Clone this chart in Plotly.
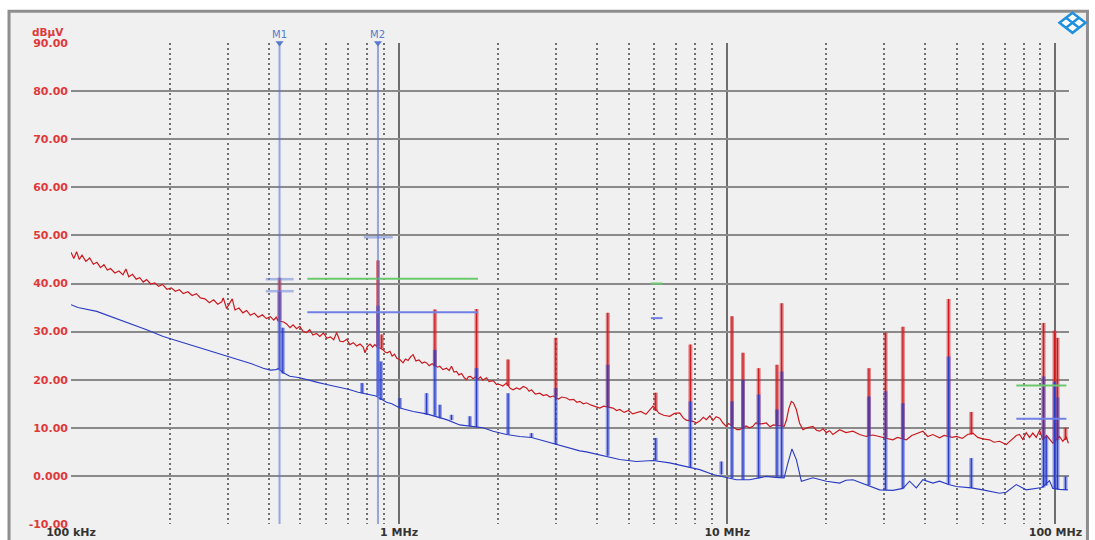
import math
import plotly.graph_objects as go

# ---------------- data (frequency in MHz, level in dBµV) ----------------
red_freq_mhz = [
    0.100, 0.102, 0.104, 0.106, 0.108, 0.111, 0.114, 0.117, 0.120, 0.123, 0.126, 0.129, 0.132, 0.136,
    0.140, 0.144, 0.147, 0.150, 0.154, 0.158, 0.162, 0.166, 0.170, 0.175, 0.180, 0.185, 0.190, 0.196,
    0.202, 0.208, 0.214, 0.220, 0.227, 0.234, 0.241, 0.248, 0.256, 0.264, 0.272, 0.280, 0.288, 0.291,
    0.298, 0.305, 0.310, 0.316, 0.325, 0.334, 0.343, 0.352, 0.362, 0.372, 0.383, 0.394, 0.405, 0.415,
    0.422, 0.428, 0.445, 0.454, 0.465, 0.475, 0.487, 0.498, 0.510, 0.522, 0.534, 0.546, 0.560, 0.573,
    0.588, 0.602, 0.617, 0.632, 0.645, 0.660, 0.676, 0.692, 0.708, 0.725, 0.742, 0.760, 0.777, 0.787,
    0.800, 0.815, 0.830, 0.843, 0.855, 0.880, 0.894, 0.908, 0.920, 0.937, 0.952, 0.968, 0.985, 1.005,
    1.020, 1.028, 1.045, 1.065, 1.085, 1.103, 1.125, 1.150, 1.175, 1.195, 1.212, 1.235, 1.260, 1.310,
    1.330, 1.360, 1.394, 1.420, 1.444, 1.470, 1.496, 1.520, 1.550, 1.580, 1.604, 1.625, 1.650, 1.680,
    1.705, 1.740, 1.770, 1.800, 1.846, 1.880, 1.934, 1.980, 2.027, 2.070, 2.124, 2.180, 2.225, 2.278,
    2.332, 2.390, 2.444, 2.490, 2.531, 2.600, 2.683, 2.750, 2.812, 2.880, 2.945, 3.060, 3.130, 3.235,
    3.311, 3.400, 3.480, 3.552, 3.640, 3.722, 3.850, 3.994, 4.087, 4.200, 4.486, 4.600, 4.702, 4.850,
    5.000, 5.150, 5.288, 5.450, 5.650, 5.800, 5.938, 6.200, 6.400, 6.676, 6.900, 7.161, 7.350, 7.500,
    7.900, 8.050, 8.239, 8.450, 8.635, 8.850, 9.044, 9.250, 9.480, 9.700, 9.936, 10.10, 10.50, 10.70,
    10.909, 11.40, 11.70, 11.975, 12.20, 12.70, 13.155, 13.50, 13.80, 14.40, 14.90, 15.136, 15.40, 15.675,
    15.90, 16.236, 16.60, 17.006, 17.50, 18.239, 18.70, 19.116, 19.60, 20.035, 20.50, 20.986, 21.50, 22.00,
    23.00, 24.15, 25.30, 26.53, 27.80, 29.12, 31.20, 31.97, 33.00, 35.12, 36.50, 37.67, 39.46, 40.80,
    42.32, 44.36, 45.80, 48.50, 49.88, 52.00, 54.00, 56.03, 58.00, 60.10, 63.00, 65.00, 67.55, 70.79,
    73.00, 75.97, 77.74, 79.50, 81.47, 83.40, 85.34, 87.40, 89.50, 91.54, 94.00, 96.00, 98.19, 102.92,
    105.32, 108.00, 109.50,
]
red_db = [
    46.5, 45.2, 46.6, 45.0, 45.9, 44.6, 45.3, 44.0, 44.4, 43.3, 43.9, 42.8, 43.1, 42.2,
    42.6, 41.8, 43.0, 41.4, 41.9, 40.9, 41.2, 40.3, 40.8, 39.9, 40.1, 39.4, 39.8, 38.8,
    39.1, 38.4, 38.7, 37.9, 38.3, 37.5, 37.9, 37.0, 36.8, 36.0, 36.6, 35.7, 36.2, 37.0,
    34.8, 35.9, 36.8, 34.5, 34.9, 33.9, 34.4, 33.4, 33.8, 33.0, 33.5, 32.7, 33.1, 32.4,
    33.0, 32.2, 32.0, 31.6, 30.8, 31.4, 30.6, 31.1, 30.0, 29.8, 30.4, 29.3, 29.6, 29.0,
    29.7, 28.6, 28.9, 28.3, 29.8, 28.0, 27.9, 28.4, 27.3, 27.7, 27.0, 27.4, 26.8, 25.6,
    26.9, 27.4, 26.8, 27.3, 26.9, 26.5, 26.2, 25.7, 25.6, 25.9, 24.9, 25.3, 24.4, 24.2,
    23.7, 23.5, 24.3, 24.0, 24.8, 25.2, 23.9, 24.1, 23.4, 23.7, 23.5, 22.9, 23.3, 22.6,
    22.8, 22.1, 22.4, 21.9, 22.8, 21.6, 21.7, 21.0, 21.3, 20.4, 20.0, 20.6, 20.7, 20.2,
    20.5, 20.1, 20.6, 19.9, 20.4, 19.6, 19.8, 19.0, 19.0, 18.7, 19.3, 18.2, 17.9, 18.3,
    18.0, 18.6, 18.3, 17.6, 17.9, 17.0, 17.2, 16.7, 16.9, 16.4, 16.6, 16.0, 16.4, 16.2,
    15.8, 15.9, 15.3, 15.5, 15.0, 15.2, 14.7, 14.4, 14.1, 14.5, 14.1, 13.6, 13.8, 13.2,
    13.6, 12.9, 13.1, 13.4, 12.8, 13.6, 14.5, 13.0, 12.6, 12.4, 13.0, 13.1, 12.0, 11.6,
    11.3, 11.0, 11.4, 12.2, 11.7, 12.5, 11.5, 12.3, 12.0, 11.0, 10.3, 10.9, 10.0, 9.6,
    9.6, 10.4, 10.0, 10.3, 11.0, 10.8, 11.0, 10.2, 10.6, 10.5, 10.3, 11.5, 14.0, 15.5,
    15.2, 13.8, 11.0, 9.6, 10.0, 10.3, 9.5, 9.3, 9.8, 9.0, 9.4, 8.6, 9.2, 9.6,
    9.0, 9.3, 8.6, 8.2, 8.5, 8.2, 7.8, 7.5, 8.0, 7.5, 8.4, 8.8, 9.3, 8.2,
    8.6, 7.9, 8.4, 8.0, 8.2, 7.8, 8.6, 8.9, 8.0, 7.7, 7.5, 7.0, 7.2, 6.5,
    7.3, 8.4, 8.6, 7.6, 9.0, 8.0, 8.9, 8.0, 9.5, 7.5, 8.4, 7.5, 6.8, 8.2,
    7.2, 8.0, 6.8,
]

blue_freq_mhz = [
    0.100, 0.105, 0.1198, 0.135, 0.1512, 0.170, 0.191, 0.215, 0.2427, 0.270, 0.305, 0.330, 0.355,
    0.3853, 0.405, 0.421, 0.428, 0.445, 0.4646, 0.4983, 0.5223, 0.560, 0.6006, 0.6447, 0.700, 0.750,
    0.800, 0.850, 0.9155, 0.950, 1.005, 1.1032, 1.2119, 1.3944, 1.5307, 1.6418, 1.8026, 1.9336,
    2.1241, 2.3321, 2.5311, 2.6829, 2.945, 3.2353, 3.5516, 3.7222, 4.0868, 4.7017, 5.2876, 5.9384,
    6.6757, 7.5057, 8.2392, 9.0441, 9.9357, 10.659, 11.70, 13.155, 14.0, 14.9, 15.307, 15.742,
    16.236, 16.816, 18.239, 20.035, 22.00, 23.00, 24.15, 26.53, 29.12, 31.97, 34.29, 35.94, 37.67,
    39.46, 42.32, 44.36, 47.25, 49.88, 55.41, 60.10, 67.55, 70.79, 75.97, 81.47, 87.40, 91.0, 95.94,
    98.19, 102.92, 105.32, 107.87, 109.1,
]
blue_db = [
    35.6, 35.0, 34.2, 32.9, 31.8, 30.4, 29.0, 27.9, 26.9, 25.9, 24.8, 24.0, 23.3,
    22.4, 22.0, 22.1, 22.3, 21.4, 20.7, 20.4, 20.1, 19.5, 19.0, 18.6, 18.0, 17.4,
    17.0, 16.6, 15.3, 15.0, 14.1, 13.4, 12.9, 11.7, 10.6, 10.3, 10.0, 9.3,
    8.6, 8.2, 8.0, 7.5, 6.7, 6.0, 5.2, 5.0, 4.4, 3.4, 3.0, 3.2,
    2.7, 2.0, 1.3, 0.3, -0.4, -0.8, -0.8, -0.1, -0.3, -0.4, 2.7, 5.6,
    3.4, -1.1, -0.4, -1.1, -1.5, -0.9, -0.8, -1.8, -2.9, -3.0, -2.6, -1.1, -2.5,
    -0.8, -1.5, -1.1, -1.8, -2.2, -2.5, -2.9, -3.6, -3.4, -1.8, -2.9, -2.5, -2.4, -1.0,
    -2.6, -2.8, -2.9, -2.9, -2.9,
]

# discrete emission lines (harmonics): frequency, top level, level at the foot
red_spike_freq = [0.432, 0.862, 0.885, 1.285, 1.721, 2.148, 3.001, 4.323, 6.052, 7.719, 10.335,
                  11.164, 12.463, 14.171, 14.646, 27.02, 30.37, 34.29, 47.25, 55.41, 92.00, 99.38,
                  101.48, 107.35]
red_spike_top = [41.2, 44.8, 29.4, 34.6, 34.7, 24.2, 28.7, 33.9, 17.3, 27.3, 33.2,
                 25.6, 22.4, 23.1, 35.9, 22.4, 29.8, 31.0, 36.8, 13.3, 31.8, 30.2,
                 28.7, 10.0]
red_spike_foot = [32.3, 27.0, 26.5, 22.8, 20.4, 18.7, 16.5, 14.3, 13.5, 11.4, 10.5,
                  9.8, 10.5, 10.6, 10.4, 8.4, 8.0, 7.7, 8.2, 8.6, 8.0, 7.2,
                  7.5, 7.5]

blue_spike_freq = [0.432, 0.442, 0.771, 0.862, 0.880, 1.005, 1.212, 1.285, 1.331, 1.444, 1.642,
                   1.721, 2.148, 2.531, 3.001, 4.323, 6.052, 7.719, 9.594, 10.335, 11.164, 12.463,
                   14.171, 14.646, 27.02, 30.37, 34.29, 47.25, 55.41, 92.00, 93.76, 99.38, 101.48,
                   107.35]
blue_spike_top = [38.3, 30.8, 19.3, 35.4, 23.8, 16.2, 17.2, 26.2, 14.8, 12.7, 12.4,
                  22.4, 17.2, 8.9, 18.3, 23.1, 7.9, 15.5, 3.0, 15.5, 20.0, 16.9,
                  13.8, 21.7, 16.5, 17.6, 15.1, 24.8, 3.7, 20.7, 8.2, 19.6, 16.3,
                  -0.1]
blue_spike_foot = [22.0, 21.3, 17.2, 16.6, 15.8, 14.1, 12.7, 12.5, 12.0, 11.6, 10.3,
                   10.1, 8.6, 8.0, 6.6, 4.2, 3.2, 1.7, 0.3, -0.5, -0.8, -0.5,
                   -0.2, -0.3, -1.9, -2.9, -2.6, -1.8, -2.5, -2.4, -2.0, -2.6, -2.8,
                   -2.9]

# limit lines (MW, SW, FM bands)
band_start_mhz = [0.525, 5.85, 76.0]
band_stop_mhz = [1.74, 6.35, 108.0]
peak_limit_db = [41.0, 40.0, 18.8]
avg_limit_db = [34.0, 32.8, 11.9]

# markers
marker_names = ["M1", "M2"]
marker_freq_mhz = [0.432, 0.862]
marker_level_lo = [0.392, 0.392, 0.780]
marker_level_hi = [0.477, 0.477, 0.956]
marker_level_db = [40.9, 38.4, 49.6]

x_tick_vals = [0.1, 1, 10, 100]
x_tick_text = ["100 kHz", "1 MHz", "10 MHz", "100 MHz"]
y_tick_vals = [-10, 0, 10, 20, 30, 40, 50, 60, 70, 80, 90]
y_tick_text = ["-10.00", "0.000", "10.00", "20.00", "30.00", "40.00", "50.00",
               "60.00", "70.00", "80.00", "90.00"]
minor_grid_mhz = [m * d for d in (0.1, 1, 10) for m in range(2, 10)]


def segments(xs_lo, xs_hi, ys_lo, ys_hi):
    xs, ys = [], []
    for a, b, c, d in zip(xs_lo, xs_hi, ys_lo, ys_hi):
        xs += [a, b, None]
        ys += [c, d, None]
    return xs, ys


RED = "#cc1a1f"
BLUE = "#2a3bc4"

fig = go.Figure()

# red spikes (wide translucent body)
sx, sy = segments(red_spike_freq, red_spike_freq, red_spike_foot, red_spike_top)
fig.add_trace(go.Scatter(x=sx, y=sy, mode="lines", line=dict(color="rgba(210,40,45,0.55)", width=4),
                         hoverinfo="skip", showlegend=False))
# red trace
fig.add_trace(go.Scatter(x=red_freq_mhz, y=red_db, mode="lines", line=dict(color=RED, width=1.2),
                         showlegend=False))
# blue spikes
bx, by = segments(blue_spike_freq, blue_spike_freq, blue_spike_foot, blue_spike_top)
fig.add_trace(go.Scatter(x=bx, y=by, mode="lines", line=dict(color="rgba(55,75,215,0.5)", width=4),
                         hoverinfo="skip", showlegend=False))
# blue trace
fig.add_trace(go.Scatter(x=blue_freq_mhz, y=blue_db, mode="lines", line=dict(color=BLUE, width=1.1),
                         showlegend=False))
# spike cores
fig.add_trace(go.Scatter(x=sx, y=sy, mode="lines", line=dict(color=RED, width=1.2),
                         hoverinfo="skip", showlegend=False))
fig.add_trace(go.Scatter(x=bx, y=by, mode="lines", line=dict(color=BLUE, width=1.2),
                         hoverinfo="skip", showlegend=False))

# limit lines
gx, gy = segments(band_start_mhz, band_stop_mhz, peak_limit_db, peak_limit_db)
fig.add_trace(go.Scatter(x=gx, y=gy, mode="lines", line=dict(color="#6cc86c", width=2),
                         showlegend=False))
ax, ay = segments(band_start_mhz, band_stop_mhz, avg_limit_db, avg_limit_db)
fig.add_trace(go.Scatter(x=ax, y=ay, mode="lines", line=dict(color="#7080e6", width=2),
                         showlegend=False))

# marker level ticks
mx, my = segments(marker_level_lo, marker_level_hi, marker_level_db, marker_level_db)
fig.add_trace(go.Scatter(x=mx, y=my, mode="lines", line=dict(color="rgba(110,135,220,0.55)", width=2.5),
                         showlegend=False))

# markers
for name, f in zip(marker_names, marker_freq_mhz):
    fig.add_trace(go.Scatter(x=[f, f], y=[-10, 90], mode="lines",
                             line=dict(color="rgba(90,115,215,0.6)", width=2), showlegend=False))
    fig.add_trace(go.Scatter(x=[f], y=[90], mode="markers", cliponaxis=False,
                             marker=dict(symbol="triangle-down", size=7, color="#5a78d0"),
                             showlegend=False))
    fig.add_annotation(x=math.log10(f), y=1.0, xref="x", yref="paper", text=name,
                       showarrow=False, yanchor="bottom", yshift=1,
                       font=dict(family="DejaVu Sans", size=10, color="#5a78d0"))

# y unit label
fig.add_annotation(x=-0.005, y=1.023, xref="paper", yref="paper", text="dBµV", showarrow=False,
                   xanchor="right", yanchor="middle",
                   font=dict(family="DejaVu Sans", size=10.5, color="#e0393c", weight="bold"))

# outer frame
fig.add_shape(type="rect", xref="paper", yref="paper", x0=-0.0621, x1=1.0185, y0=-0.05, y1=1.066,
              line=dict(color="#8e8e8e", width=3), fillcolor="#f0f0f0", layer="below")

# R&S logo
logo = dict(type="path", xref="paper", yref="paper", xsizemode="pixel", ysizemode="pixel",
            xanchor=1.0035, yanchor=1.042, line=dict(color="#1e90e0", width=2.5))
fig.add_shape(path="M -13,0 L 0,10 L 13,0 L 0,-10 Z", fillcolor="white", **logo)
fig.add_shape(path="M -6.5,5 L 6.5,-5 M 6.5,5 L -6.5,-5", **logo)

fig.update_layout(
    width=1095, height=540,
    margin=dict(l=71, r=26, t=43, b=16, autoexpand=False),
    paper_bgcolor="white",
    plot_bgcolor="rgba(0,0,0,0)",
    showlegend=False,
    xaxis=dict(
        type="log", range=[-1, 2.04139], automargin=False,
        tickvals=x_tick_vals, ticktext=x_tick_text, ticks="",
        showgrid=True, gridcolor="#6e6e6e", gridwidth=2,
        zeroline=False, showline=False, ticklabelstandoff=0,
        tickfont=dict(family="DejaVu Sans", size=11, color="#333333", weight="bold"),
        minor=dict(tickvals=minor_grid_mhz, showgrid=True, gridcolor="#707070",
                   griddash="2px,3px", gridwidth=1.5, ticks=""),
    ),
    yaxis=dict(
        range=[-10, 90], tickvals=y_tick_vals, ticktext=y_tick_text, ticks="",
        showgrid=True, gridcolor="#8a8a8a", gridwidth=1.5, automargin=False,
        zeroline=False, showline=False, ticklabelstandoff=2,
        tickfont=dict(family="DejaVu Sans", size=11, color="#e0393c", weight="bold"),
    ),
)

fig.write_html("out.html")
